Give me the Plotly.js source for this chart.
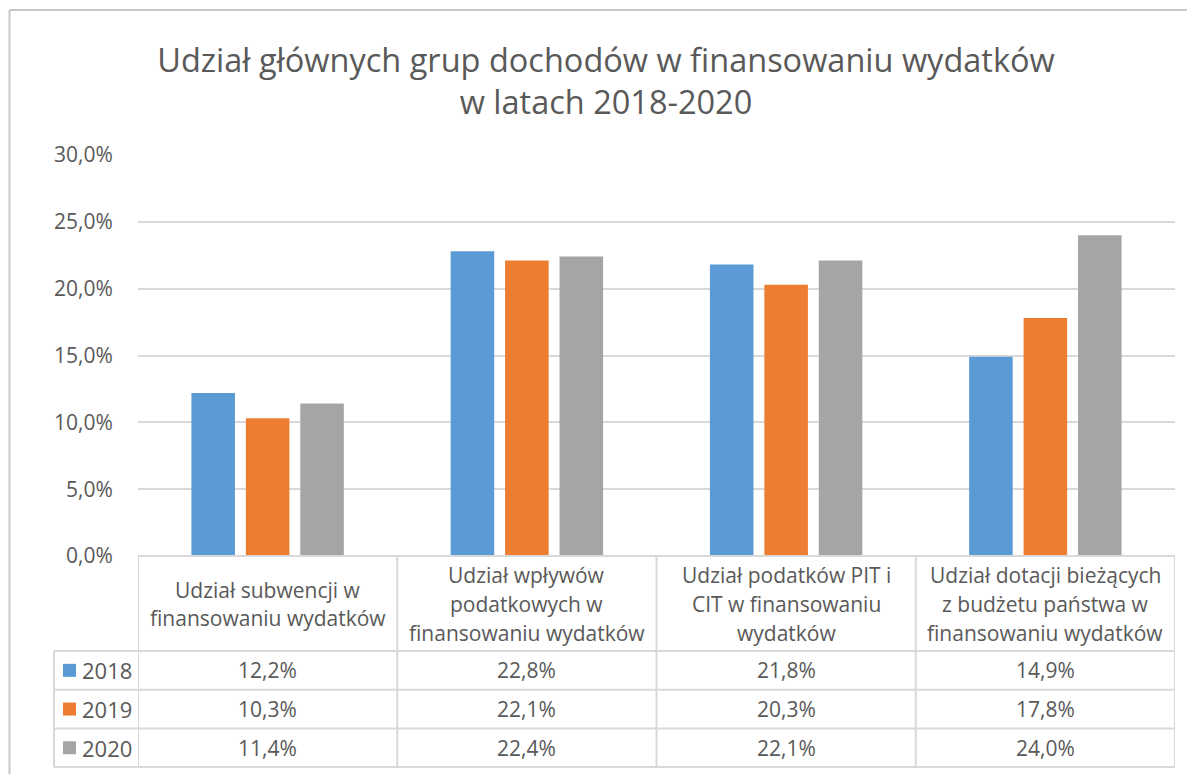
<!DOCTYPE html>
<html>
<head>
<meta charset="utf-8">
<script src="https://cdn.plot.ly/plotly-3.0.1.min.js"></script>
<style>html,body{margin:0;padding:0;background:#fff;}#chart{width:1187px;height:774px;}</style>
</head>
<body>
<div id="chart"></div>
<script>
// ---- data ----
const categories = [
  'Udział subwencji w<br>finansowaniu wydatków',
  'Udział wpływów<br>podatkowych w<br>finansowaniu wydatków',
  'Udział podatków PIT i<br>CIT w finansowaniu<br>wydatków',
  'Udział dotacji bieżących<br>z budżetu państwa w<br>finansowaniu wydatków'
];
const years = ['2018', '2019', '2020'];
const values2018 = [0.122, 0.228, 0.218, 0.149];
const values2019 = [0.103, 0.221, 0.203, 0.178];
const values2020 = [0.114, 0.224, 0.221, 0.240];
const seriesColors = ['#5b9bd5', '#ed7d31', '#a5a5a5'];
const titleText = 'Udział głównych grup dochodów w finansowaniu wydatków<br>w latach 2018-2020';

// ---- geometry helpers ----
const W = 1187, H = 774;
const M = {l: 138, r: 12, t: 155, b: 218};
const PW = W - M.l - M.r, PH = H - M.t - M.b;
const px = X => (X - M.l) / PW;
const py = Y => (H - M.b - Y) / PH;

const series = [values2018, values2019, values2020];
const idx = categories.map((c, i) => i);
const fmt = v => (v * 100).toFixed(1).replace('.', ',') + '%';

const traces = series.map((vals, s) => ({
  type: 'bar',
  name: years[s],
  x: idx,
  y: vals,
  marker: {color: seriesColors[s]},
  hovertemplate: '%{y:.1%}<extra>' + years[s] + '</extra>'
}));

const lineCol = '#d9d9d9';
const txtCol = '#595959';
const shapes = [];
const ann = [];

// outer chart border (left and top)
shapes.push({type: 'line', xref: 'paper', yref: 'paper', x0: px(9.5), x1: px(9.5), y0: py(10), y1: py(H + 5), line: {color: '#c8c8c8', width: 2}});
shapes.push({type: 'line', xref: 'paper', yref: 'paper', x0: px(9.5), x1: px(W + 5), y0: py(10), y1: py(10), line: {color: '#c8c8c8', width: 2}});

// table rows
const yHeadTop = 556, yHeadBot = 651;
const rowH = 38.7;
const rowTops = years.map((y, r) => yHeadBot + r * rowH);
const yTableBot = yHeadBot + years.length * rowH;
const legendLeft = 54;
const n = categories.length;

// horizontal lines
shapes.push({type: 'line', xref: 'paper', yref: 'paper', x0: 0, x1: 1, y0: py(yHeadTop), y1: py(yHeadTop), line: {color: lineCol, width: 2}});
[yHeadBot].concat(rowTops.slice(1), [yTableBot]).forEach(Y => {
  shapes.push({type: 'line', xref: 'paper', yref: 'paper', x0: px(legendLeft), x1: 1, y0: py(Y), y1: py(Y), line: {color: lineCol, width: 2}});
});
// vertical lines
shapes.push({type: 'line', xref: 'paper', yref: 'paper', x0: px(legendLeft), x1: px(legendLeft), y0: py(yHeadBot), y1: py(yTableBot), line: {color: lineCol, width: 2}});
for (let i = 0; i <= n; i++) {
  shapes.push({type: 'line', xref: 'x', yref: 'paper', x0: i - 0.5, x1: i - 0.5, y0: py(yHeadTop), y1: py(yTableBot), line: {color: lineCol, width: 2}});
}

// header labels
categories.forEach((c, i) => {
  const lines = c.split('<br>');
  const lh = 28.8, mid = 604;
  lines.forEach((ln, k) => {
    const Y = mid + (k - (lines.length - 1) / 2) * lh;
    ann.push({xref: 'x', yref: 'paper', x: i, y: py(Y), text: ln, showarrow: false,
      xanchor: 'center', yanchor: 'middle', font: {family: 'Open Sans', size: 21, color: txtCol}});
  });
});

// legend column + values
years.forEach((yr, r) => {
  const Yc = rowTops[r] + rowH / 2;
  shapes.push({type: 'rect', xref: 'paper', yref: 'paper', x0: px(63), x1: px(76), y0: py(Yc - 6.5), y1: py(Yc + 6.5), fillcolor: seriesColors[r], line: {width: 0}});
  ann.push({xref: 'paper', yref: 'paper', x: px(80), y: py(Yc), text: yr, showarrow: false,
    xanchor: 'left', yanchor: 'middle', font: {family: 'Open Sans', size: 22, color: txtCol}});
  series[r].forEach((v, i) => {
    ann.push({xref: 'x', yref: 'paper', x: i, y: py(Yc), text: fmt(v), showarrow: false,
      xanchor: 'center', yanchor: 'middle', font: {family: 'Open Sans', size: 21, color: txtCol}});
  });
});

const layout = {
  width: W, height: H,
  margin: M,
  paper_bgcolor: '#ffffff', plot_bgcolor: '#ffffff',
  separators: ', ',
  showlegend: false,
  barmode: 'group',
  bargap: 0.37,
  bargroupgap: 0.2,
  title: {text: titleText, xref: 'container', yref: 'container', x: 606 / W, xanchor: 'center', y: 1 - 72 / H, yanchor: 'middle',
    font: {family: 'Open Sans', size: 32.5, color: txtCol}},
  xaxis: {type: 'linear', range: [-0.5, n - 0.5], showticklabels: false, showgrid: false, zeroline: false, ticks: '', fixedrange: true},
  yaxis: {range: [0, 0.30], dtick: 0.05, tick0: 0, tickformat: '.1%', showgrid: true, gridcolor: lineCol, gridwidth: 1.5,
    zeroline: false, ticks: 'outside', ticklen: 20, tickcolor: 'rgba(0,0,0,0)',
    tickfont: {family: 'Open Sans', size: 21, color: txtCol}, fixedrange: true},
  shapes: shapes,
  annotations: ann
};

Plotly.newPlot('chart', traces, layout, {displayModeBar: false, responsive: false});
</script>
</body>
</html>
